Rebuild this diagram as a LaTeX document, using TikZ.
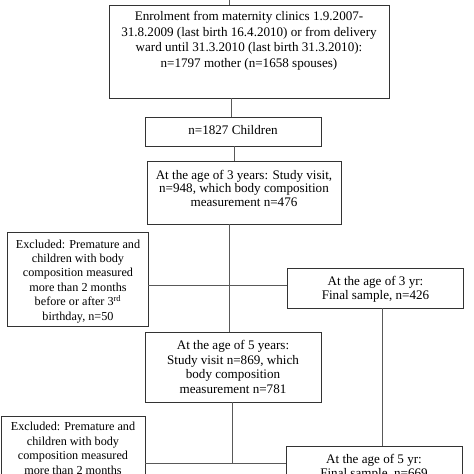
\documentclass[tikz,border=0pt]{standalone}
\usepackage{fontspec}
\setmainfont{Liberation Serif}
\begin{document}
\begin{tikzpicture}[x=1pt,y=-1pt,
  box/.style={draw=black!80,line width=0.8pt,inner sep=0pt,outer sep=0pt},
  txt/.style={align=center,font=\fontsize{13.1}{14.6}\selectfont,inner sep=0pt,text=black},
  smalltxt/.style={txt,font=\fontsize{12.2}{14.4}\selectfont},
  link/.style={draw=black!65,line width=0.6pt}]
\useasboundingbox (0,0) rectangle (474,474);
\clip (0,0) rectangle (474,474);
% boxes
\node[box,minimum width=280pt,minimum height=93pt] (enrol) at (249,51.5) {};
\node[box,minimum width=176pt,minimum height=29pt] (children) at (233,131.5) {};
\node[box,minimum width=194pt,minimum height=63pt] (three) at (244,192.5) {};
\node[box,minimum width=141pt,minimum height=94pt] (excl1) at (77.5,279) {};
\node[box,minimum width=176pt,minimum height=40pt] (final3) at (375,288) {};
\node[box,minimum width=176pt,minimum height=70pt] (five) at (233,367) {};
\node[box,minimum width=144pt,minimum height=104pt] (excl2) at (73,468) {};
\node[box,minimum width=176pt,minimum height=40pt] (final5) at (374,466) {};
% texts
\node[txt,font=\fontsize{13.1}{15.5}\selectfont] (enrolt) at (249,40.7) {Enrolment from maternity clinics 1.9.2007-\\31.8.2009 (last birth 16.4.2010) or from delivery\\ward until 31.3.2010 (last birth 31.3.2010):\\n=1797 mother (n=1658 spouses)};
\node[txt] (childrent) at (233,130) {n=1827 Children};
\node[txt,font=\fontsize{13.1}{13.8}\selectfont] (threet) at (244,188.3) {At the age of 3 years: Study visit,\\n=948, which body composition\\measurement n=476};
\node[smalltxt] (excl1t) at (78,281.2) {Excluded: Premature and\\children with body\\composition measured\\more than 2 months\\before or after 3\textsuperscript{rd}\\birthday, n=50};
\node[txt] (final3t) at (375.5,289.2) {At the age of 3 yr:\\Final sample, n=426};
\node[txt] (fivet) at (233,367) {At the age of 5 years:\\Study visit n=869, which\\body composition\\measurement n=781};
\node[smalltxt] (excl2t) at (73,448.4) {Excluded: Premature and\\children with body\\composition measured\\more than 2 months};
\node[txt] (final5t) at (374,467.2) {At the age of 5 yr:\\Final sample, n=669};
% connectors
\coordinate (topin) at (229,0);
\draw[link] (topin) -- (topin |- enrol.north);
\coordinate (v0) at ([xshift=-18pt]enrol.south);
\draw[link] (v0) -- (v0 |- children.north);
\coordinate (v1) at ([xshift=1pt]children.south);
\draw[link] (v1) -- (v1 |- three.north);
\coordinate (v2) at ([xshift=-15pt]three.south);
\draw[link] (v2) -- (v2 |- five.north);
\coordinate (h1) at ([yshift=-6pt]excl1.east);
\draw[link] (h1) -- (h1 -| final3.west);
\coordinate (v3) at ([xshift=7pt]final3.south);
\draw[link] (v3) -- (v3 |- final5.north);
\coordinate (h2) at ([yshift=5pt]excl2.east);
\draw[link] (h2) -- (h2 -| final5.west);
\coordinate (v5) at ([xshift=-1pt]five.south);
\draw[link] (v5) -- (v5 |- h2);
\end{tikzpicture}
\end{document}
